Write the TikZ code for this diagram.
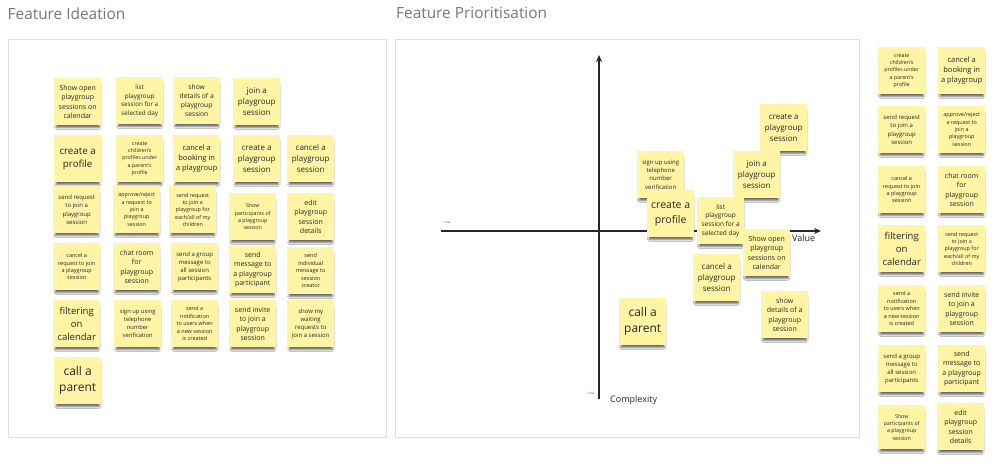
\documentclass[tikz,border=0pt]{standalone}
\usepackage{fontspec}
\setmainfont{Open Sans}
\usetikzlibrary{arrows.meta,shadows.blur}
\definecolor{notey}{HTML}{FFF5A5}
\definecolor{frame}{HTML}{DEDEDE}
\definecolor{titlegray}{HTML}{777777}
\definecolor{ink}{HTML}{262626}
\begin{document}
\begin{tikzpicture}[x=1pt,y=-1pt,
  fs/.style={font=\fontsize{#1pt}{\dimexpr #1pt*136/100\relax}\selectfont},
  note/.style={fill=notey, minimum width=47pt, minimum height=47pt, anchor=north west,
    align=center, inner sep=0pt, text=ink,
    blur shadow={shadow xshift=0pt, shadow yshift=-4.5pt, shadow scale=0.92,
      shadow opacity=60, shadow blur radius=2pt}},
  panel/.style={draw=frame, line width=1pt, fill=white},
  title/.style={anchor=north west, inner sep=0pt, text=titlegray, fs=15.4},
  axis/.style={draw=black!85, line width=1.2pt, -{Stealth[length=7pt,width=6pt]}},
  axlabel/.style={text=ink, fs=9, inner sep=0pt},
  lowlabel/.style={text=black!60, fs=3.5, inner sep=0pt}]
\useasboundingbox[fill=white] (0,0) rectangle (1000,470);

% titles
\node[title] (t1) at (7.5,7.5) {Feature Ideation};
\node[title] (t2) at (396,7.5) {Feature Prioritisation};

% panels
\node[panel, anchor=north west, minimum width=378pt, minimum height=398pt] (p1) at (8,39) {};
\node[panel, anchor=north west, minimum width=464pt, minimum height=398pt] (p2) at (395,39) {};

% ---------- left panel notes
\node[note, fs=7]   (L1)  at (54,78)  {Show open\\playgroup\\sessions on\\calendar};
\node[note, fs=6.3] (L2)  at (116,77) {list\\playgroup\\session for a\\selected day};
\node[note, fs=6.7] (L3)  at (173,77) {show\\details of a\\playgroup\\session};
\node[note, fs=8]   (L4)  at (233,78) {join a\\playgroup\\session};
\node[note, fs=9.8] (L5)  at (54,135) {create a\\profile};
\node[note, fs=5.3] (L6)  at (116,135) {create\\children's\\profiles under\\a parent's\\profile};
\node[note, fs=7.5] (L7)  at (173,135) {cancel a\\booking in\\a playgroup};
\node[note, fs=8]   (L8)  at (233,135) {create a\\playgroup\\session};
\node[note, fs=8]   (L9)  at (287,135) {cancel a\\playgroup\\session};
\node[note, fs=6]   (L10) at (53,186) {send request\\to join a\\playgroup\\session};
\node[note, fs=5.4] (L11) at (113,186) {approve/reject\\a request to\\join a\\playgroup\\session};
\node[note, fs=5.4] (L12) at (169,186) {send request\\to join a\\playgroup for\\each/all of my\\children};
\node[note, fs=5.3] (L13) at (229,193) {Show\\participants of\\a playgroup\\session};
\node[note, fs=7]   (L14) at (287,193) {edit\\playgroup\\session\\details};
\node[note, fs=5.5] (L15) at (53,243) {cancel a\\request to join\\a playgroup\\session};
\node[note, fs=7]   (L16) at (113,243) {chat room\\for\\playgroup\\session};
\node[note, fs=6]   (L17) at (171,243) {send a group\\message to\\all session\\participants};
\node[note, fs=7]   (L18) at (229,246) {send\\message to\\a playgroup\\participant};
\node[note, fs=5.5] (L19) at (287,247) {send\\individual\\message to\\session\\creator};
\node[note, fs=9.5] (L20) at (53,300) {filtering\\on\\calendar};
\node[note, fs=5.8] (L21) at (114,300) {sign up using\\telephone\\number\\verification};
\node[note, fs=5.5] (L22) at (171,300) {send a\\notification\\to users when\\a new session\\is created};
\node[note, fs=7]   (L23) at (229,300) {send invite\\to join a\\playgroup\\session};
\node[note, fs=6]   (L24) at (287,300) {show my\\waiting\\requests to\\join a session};
\node[note, fs=12]  (L25) at (54,357) {call a\\parent};

% ---------- prioritisation axes
\coordinate (xa) at (441,231);
\coordinate (xb) at (821,231);
\coordinate (ya) at (599,399);
\coordinate (yb) at (599,55);
\draw[axis] (xa) -- (xb);
\draw[axis] (ya) -- (yb);
\node[axlabel, anchor=north west] (val) at (792,234) {Value};
\node[axlabel, anchor=north west] (cpx) at (610,395) {Complexity};
\node[lowlabel] (low1) at (447,222) {Low};
\node[lowlabel] (low2) at (591,393) {Low};

% ---------- prioritisation notes
\node[note, fs=6]   (M3) at (637,151) {sign up using\\telephone\\number\\verification};
\node[note, fs=10.5](M4) at (647,190) {create a\\profile};
\node[note, fs=8]   (M1) at (760,104) {create a\\playgroup\\session};
\node[note, fs=8]   (M2) at (733,151) {join a\\playgroup\\session};
\node[note, fs=6.5] (M5) at (697,197) {list\\playgroup\\session for a\\selected day};
\node[note, fs=7]   (M6) at (743,229) {Show open\\playgroup\\sessions on\\calendar};
\node[note, fs=8]   (M7) at (693,254) {cancel a\\playgroup\\session};
\node[note, fs=7]   (M8) at (761,291) {show\\details of a\\playgroup\\session};
\node[note, fs=12]  (M9) at (619,298) {call a\\parent};

% ---------- right column
\node[note, fs=5.3] (R1)  at (878,47)  {create\\children's\\profiles under\\a parent's\\profile};
\node[note, fs=7.5] (R2)  at (938,47)  {cancel a\\booking in\\a playgroup};
\node[note, fs=6]   (R3)  at (878,106) {send request\\to join a\\playgroup\\session};
\node[note, fs=5.4] (R4)  at (938,106) {approve/reject\\a request to\\join a\\playgroup\\session};
\node[note, fs=5.5] (R5)  at (878,166) {cancel a\\request to join\\a playgroup\\session};
\node[note, fs=7]   (R6)  at (938,166) {chat room\\for\\playgroup\\session};
\node[note, fs=9.5] (R7)  at (878,225) {filtering\\on\\calendar};
\node[note, fs=5.4] (R8)  at (938,225) {send request\\to join a\\playgroup for\\each/all of my\\children};
\node[note, fs=5.5] (R9)  at (878,285) {send a\\notification\\to users when\\a new session\\is created};
\node[note, fs=7]   (R10) at (938,285) {send invite\\to join a\\playgroup\\session};
\node[note, fs=6]   (R11) at (878,345) {send a group\\message to\\all session\\participants};
\node[note, fs=7]   (R12) at (938,345) {send\\message to\\a playgroup\\participant};
\node[note, fs=5.3, minimum height=44pt] (R13) at (878,405) {Show\\participants of\\a playgroup\\session};
\node[note, fs=7]   (R14) at (937,403) {edit\\playgroup\\session\\details};
\end{tikzpicture}
\end{document}
